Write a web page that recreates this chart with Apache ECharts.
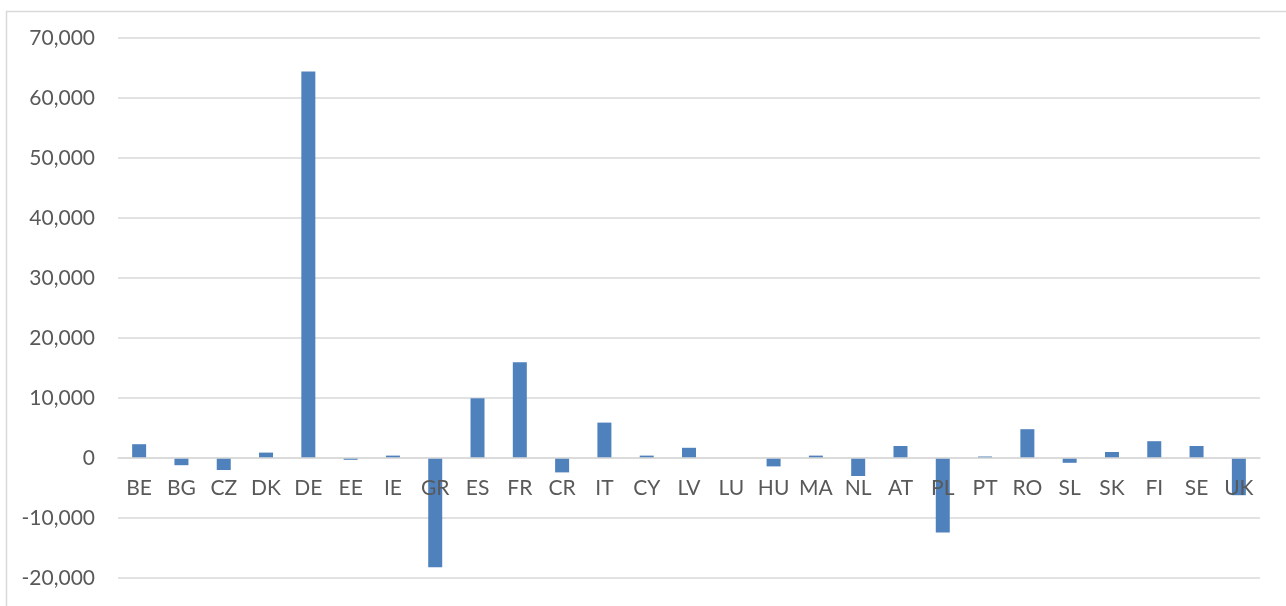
<!DOCTYPE html>
<html>
<head>
<meta charset="utf-8">
<script src="https://cdn.jsdelivr.net/npm/echarts@6/dist/echarts.min.js"></script>
<style>
  html, body { margin: 0; padding: 0; background: #ffffff; overflow: hidden; }
  #chart { width: 1286px; height: 606px; }
</style>
</head>
<body>
<div id="chart"></div>
<script>
// Country codes along the category axis
const countries = ['BE', 'BG', 'CZ', 'DK', 'DE', 'EE', 'IE', 'GR', 'ES', 'FR',
  'CR', 'IT', 'CY', 'LV', 'LU', 'HU', 'MA', 'NL', 'AT', 'PL',
  'PT', 'RO', 'SL', 'SK', 'FI', 'SE', 'UK'];

// Value per country
const values = [2300, -1200, -2000, 900, 64400, -300, 400, -18200, 9950, 15950,
  -2400, 5900, 400, 1700, 0, -1400, 400, -3000, 2000, -12400,
  250, 4800, -800, 1000, 2800, 2000, -6200];

// Value axis range and step
const yMin = -20000;
const yMax = 70000;
const yStep = 10000;

const chartHeight = 606;
const gridTop = 38;
const gridBottom = 28;
const gridHeight = chartHeight - gridTop - gridBottom;
// Lift the category axis from the bottom edge up to the zero value
const zeroOffset = -gridHeight * (0 - yMin) / (yMax - yMin);

const chart = echarts.init(document.getElementById('chart'), null, { renderer: 'canvas' });

const gridColor = '#d9d9d9';
const textColor = '#595959';
const fontFamily = 'Lato, "Open Sans", sans-serif';

chart.setOption({
  animation: false,
  backgroundColor: '#ffffff',
  graphic: [{
    type: 'rect',
    left: 4,
    top: 9,
    shape: { width: 1400, height: 700 },
    style: { fill: 'none', stroke: gridColor, lineWidth: 1.5 },
    silent: true,
    z: -1
  }],
  grid: {
    left: 118, right: 26, top: gridTop, bottom: gridBottom,
    containLabel: false,
    outerBoundsMode: 'none'
  },
  xAxis: {
    type: 'category',
    data: countries,
    position: 'bottom',
    offset: zeroOffset,
    z: 3,
    axisLine: { onZero: false, lineStyle: { color: gridColor, width: 1.5 } },
    axisTick: { show: false },
    axisLabel: {
      color: textColor,
      fontFamily: fontFamily,
      fontSize: 21,
      margin: 20,
      interval: 0
    }
  },
  yAxis: {
    type: 'value',
    min: yMin,
    max: yMax,
    interval: yStep,
    axisLine: { show: false },
    axisTick: { show: false },
    splitLine: { lineStyle: { color: gridColor, width: 1.5 } },
    axisLabel: {
      color: textColor,
      fontFamily: fontFamily,
      fontSize: 21,
      margin: 23,
      formatter: v => v.toLocaleString('en-US')
    }
  },
  series: [{
    type: 'bar',
    data: values,
    barWidth: 14,
    itemStyle: { color: '#4f81bd' },
    z: 2
  }]
});
</script>
</body>
</html>
